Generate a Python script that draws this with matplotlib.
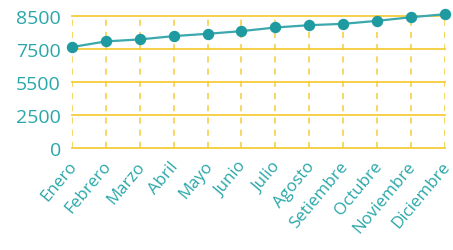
import matplotlib
matplotlib.use("Agg")
import matplotlib.pyplot as plt
import matplotlib.transforms as mtransforms
import numpy as np

months = ["Enero", "Febrero", "Marzo", "Abril", "Mayo", "Junio", "Julio",
          "Agosto", "Setiembre", "Octubre", "Noviembre", "Diciembre"]
values = [7550, 7720, 7780, 7880, 7950, 8030, 8140, 8210, 8250, 8340, 8450, 8540]
yticks = [0, 2500, 5500, 7500, 8500]

tick_pos = np.arange(len(yticks), dtype=float)
tv = np.array(yticks, dtype=float)

def fwd(v):
    v = np.asarray(v, dtype=float)
    out = np.interp(v, tv, tick_pos)
    hi = v > tv[-1]
    out = np.where(hi, tick_pos[-1] + (v - tv[-1]) / (tv[-1] - tv[-2]), out)
    lo = v < tv[0]
    out = np.where(lo, (v - tv[0]) / (tv[1] - tv[0]), out)
    return out

def inv(p):
    p = np.asarray(p, dtype=float)
    out = np.interp(p, tick_pos, tv)
    hi = p > tick_pos[-1]
    out = np.where(hi, tv[-1] + (p - tick_pos[-1]) * (tv[-1] - tv[-2]), out)
    lo = p < 0
    out = np.where(lo, p * (tv[1] - tv[0]), out)
    return out

teal = "#1E9AA0"
line_teal = "#3AA8AC"
label_teal = "#2AA7A9"
gold = "#F4CD3C"

fig = plt.figure(figsize=(4.53, 2.51), dpi=100)
ax = fig.add_axes([0.159, 0.406, 0.823, 0.528])
ax.set_yscale("function", functions=(fwd, inv))
x = np.arange(len(months))
ax.set_xlim(0, len(months) - 1)
ax.set_ylim(0, 8500)

for yv in yticks:
    ax.axhline(yv, color=gold, lw=1.3, zorder=1, clip_on=False)
for xi in x:
    ax.axvline(xi, color=gold, lw=1.1, ls=(0, (4, 4)), zorder=1)

ax.plot(x, values, color=line_teal, lw=1.6, zorder=3, clip_on=False)
ax.plot(x, values, color=teal, lw=0, marker="o", ms=7.2, zorder=4, clip_on=False)

ax.set_yticks(yticks)
ax.set_yticklabels([str(v) for v in yticks], fontsize=14, color=label_teal, family="Open Sans")
ax.set_xticks(x)
ax.set_xticklabels(months, rotation=50, ha="right", rotation_mode="anchor",
                   fontsize=12.2, color=label_teal, family="Open Sans")
ax.tick_params(axis="y", length=0, pad=8)
ax.tick_params(axis="x", length=0, pad=7)
shift = mtransforms.ScaledTranslation(-4 / 100, 0, fig.dpi_scale_trans)
for lbl in ax.get_xticklabels():
    lbl.set_transform(lbl.get_transform() + shift)
for s in ax.spines.values():
    s.set_visible(False)
ax.minorticks_off()

fig.savefig("out.png", dpi=100)
